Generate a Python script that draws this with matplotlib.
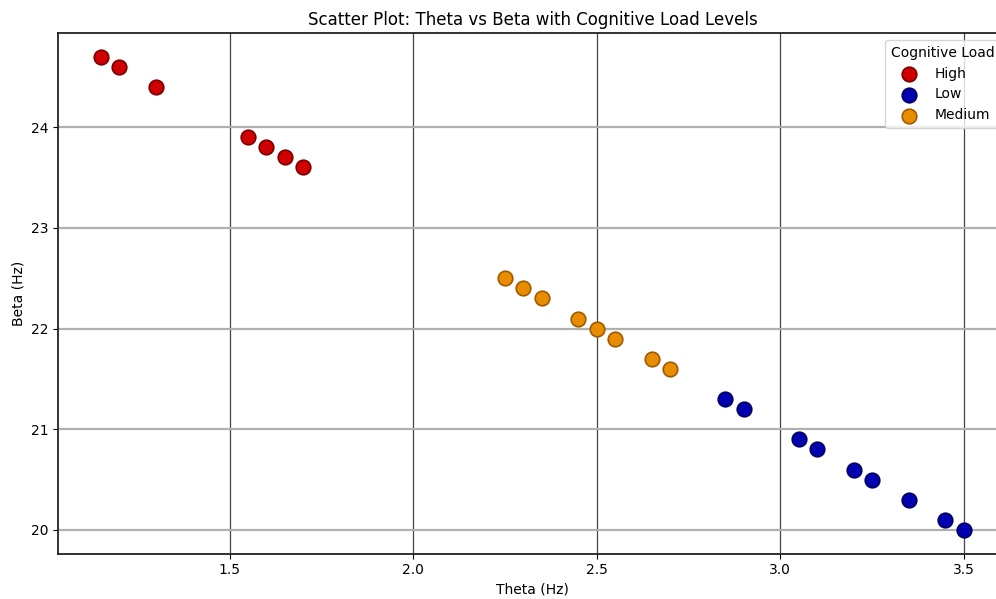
import matplotlib
matplotlib.use('Agg')
import matplotlib.pyplot as plt

# data
high_theta = [1.15, 1.2, 1.3, 1.55, 1.6, 1.65, 1.7]
high_beta = [24.7, 24.6, 24.4, 23.9, 23.8, 23.7, 23.6]
low_theta = [2.85, 2.9, 3.05, 3.1, 3.2, 3.25, 3.35, 3.45, 3.5]
low_beta = [21.3, 21.2, 20.9, 20.8, 20.6, 20.5, 20.3, 20.1, 20.0]
med_theta = [2.25, 2.3, 2.35, 2.45, 2.5, 2.55, 2.65, 2.7]
med_beta = [22.5, 22.4, 22.3, 22.1, 22.0, 21.9, 21.7, 21.6]

fig = plt.figure(figsize=(9.96, 5.99), dpi=100)
# axes run slightly past the right edge, as in the cropped original
ax = fig.add_axes([0.0582, 0.0758, 0.9528, 0.869])

ax.scatter(high_theta, high_beta, s=110, c='#d00000', edgecolors='#7a0000', linewidths=1.2, label='High', zorder=3)
ax.scatter(low_theta, low_beta, s=110, c='#0000b0', edgecolors='#000060', linewidths=1.2, label='Low', zorder=3)
ax.scatter(med_theta, med_beta, s=110, c='#e88c00', edgecolors='#a05a00', linewidths=1.2, label='Medium', zorder=3)

ax.set_xticks([1.5, 2.0, 2.5, 3.0, 3.5])
ax.set_yticks([20, 21, 22, 23, 24])
ax.xaxis.grid(True, color='#444444', linewidth=0.9)
ax.yaxis.grid(True, color='#b0b0b0', linewidth=1.6)
ax.set_axisbelow(True)
for sp in ax.spines.values():
    sp.set_linewidth(1.3)
    sp.set_color('#222222')

ax.set_title('Scatter Plot: Theta vs Beta with Cognitive Load Levels', fontsize=12)
ax.set_xlabel('Theta (Hz)', fontsize=10)
ax.set_ylabel('Beta (Hz)', fontsize=10)
ax.legend(title='Cognitive Load', loc='upper right', fontsize=10, title_fontsize=10)

fig.savefig('out.png', dpi=100)
